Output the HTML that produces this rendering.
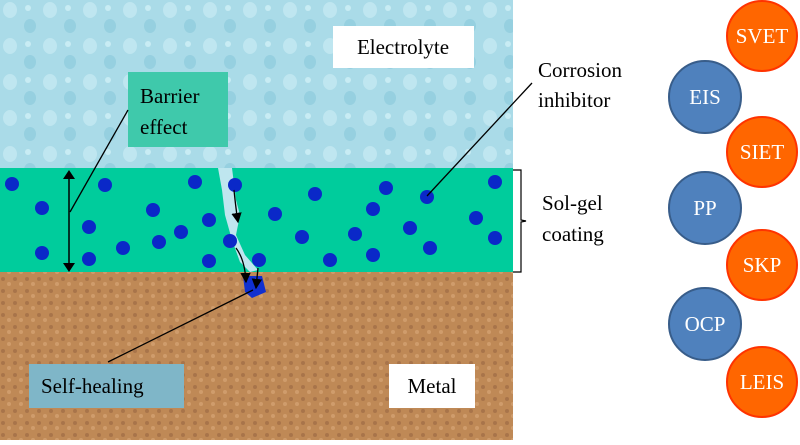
<!DOCTYPE html>
<html><head><meta charset="utf-8"><style>
body{margin:0;width:800px;height:440px;overflow:hidden;background:#fff;font-family:"Liberation Serif",serif}
</style></head><body>
<svg width="800" height="440" xmlns="http://www.w3.org/2000/svg" font-family="Liberation Serif, serif">
<defs>
<pattern id="drops" width="40" height="36" patternUnits="userSpaceOnUse">
<rect width="40" height="36" fill="#aadbe8"/>
<ellipse cx="10" cy="10" rx="7" ry="8" fill="#bfe6f0"/>
<ellipse cx="30" cy="26" rx="6" ry="7" fill="#96d0e0"/>
<ellipse cx="28" cy="8" rx="3" ry="3" fill="#c8ecf4"/>
</pattern>
<pattern id="sand" width="12" height="12" patternUnits="userSpaceOnUse">
<rect width="12" height="12" fill="#bf8956"/>
<circle cx="3" cy="3" r="2" fill="#a8744a"/>
<circle cx="9" cy="8" r="2" fill="#cf9c6c"/>
</pattern>
<marker id="ah" markerWidth="8" markerHeight="8" refX="7" refY="4" orient="auto"><path d="M0,0 L8,4 L0,8 Z" fill="#000"/></marker>
</defs>
<rect x="0" y="0" width="513" height="170" fill="url(#drops)"/>
<rect x="0" y="168" width="513" height="104" fill="#00cc9c"/>
<rect x="0" y="272" width="513" height="168" fill="url(#sand)"/>
<path d="M218,168 L232,168 L236,200 L240,215 L236,235 L245,255 L258,270 L250,272 L240,262 L232,240 L225,215 L222,190 Z" fill="#bfe6ef"/>
<path d="M243,276 L262,276 L266,292 L252,298 L245,292 Z" fill="#1030d0"/>
<g fill="#0a28c8">
<circle cx="12" cy="184" r="7"/><circle cx="105" cy="185" r="7"/><circle cx="195" cy="182" r="7"/><circle cx="235" cy="185" r="7"/>
<circle cx="42" cy="208" r="7"/><circle cx="153" cy="210" r="7"/><circle cx="209" cy="220" r="7"/><circle cx="89" cy="227" r="7"/>
<circle cx="181" cy="232" r="7"/><circle cx="159" cy="242" r="7"/><circle cx="123" cy="248" r="7"/><circle cx="42" cy="253" r="7"/>
<circle cx="89" cy="259" r="7"/><circle cx="209" cy="261" r="7"/><circle cx="230" cy="241" r="7"/>
<circle cx="259" cy="260" r="7"/><circle cx="275" cy="214" r="7"/><circle cx="315" cy="194" r="7"/><circle cx="302" cy="237" r="7"/>
<circle cx="330" cy="260" r="7"/><circle cx="355" cy="234" r="7"/><circle cx="373" cy="209" r="7"/><circle cx="373" cy="255" r="7"/>
<circle cx="386" cy="188" r="7"/><circle cx="410" cy="228" r="7"/><circle cx="427" cy="197" r="7"/><circle cx="430" cy="248" r="7"/>
<circle cx="476" cy="218" r="7"/><circle cx="495" cy="182" r="7"/><circle cx="495" cy="238" r="7"/>
</g>
<path d="M234,190 Q236,210 238,222" stroke="#000" stroke-width="1.3" fill="none" marker-end="url(#ah)"/>
<path d="M236,248 Q245,260 246,282" stroke="#000" stroke-width="1.3" fill="none" marker-end="url(#ah)"/>
<path d="M258,268 L256,288" stroke="#000" stroke-width="1.3" fill="none" marker-end="url(#ah)"/>
<line x1="69" y1="176" x2="69" y2="266" stroke="#000" stroke-width="1.5"/>
<path d="M63,179 L69,170 L75,179 Z M63,263 L69,272 L75,263 Z" fill="#000"/>
<rect x="333" y="26" width="141" height="42" fill="#fff"/>
<text x="403" y="54" font-size="21" text-anchor="middle">Electrolyte</text>
<rect x="128" y="72" width="100" height="75" fill="#3fc9ab"/>
<text x="140" y="103" font-size="21">Barrier</text>
<text x="140" y="134" font-size="21">effect</text>
<line x1="128" y1="110" x2="70" y2="212" stroke="#000" stroke-width="1.3"/>
<rect x="29" y="364" width="155" height="44" fill="#7fb6c8"/>
<text x="41" y="393" font-size="21">Self-healing</text>
<line x1="108" y1="362" x2="253" y2="290" stroke="#000" stroke-width="1.3"/>
<rect x="389" y="364" width="86" height="44" fill="#fff"/>
<text x="432" y="393" font-size="21" text-anchor="middle">Metal</text>
<text x="538" y="77" font-size="21">Corrosion</text>
<text x="538" y="107" font-size="21">inhibitor</text>
<line x1="532" y1="83" x2="427" y2="196" stroke="#000" stroke-width="1.3"/>
<path d="M513,170 L521,170 L521,220 L526,221 L521,222 L521,272 L513,272" stroke="#000" stroke-width="1.2" fill="none"/>
<text x="542" y="210" font-size="21">Sol-gel</text>
<text x="542" y="241" font-size="21">coating</text>
<g font-size="21" fill="#fff" text-anchor="middle" stroke-width="2">
<circle cx="762" cy="36" r="35" fill="#ff6600" stroke="#ff3300"/><text x="762" y="43">SVET</text>
<circle cx="705" cy="97" r="36" fill="#4f81bd" stroke="#385d8a"/><text x="705" y="104">EIS</text>
<circle cx="762" cy="152" r="35" fill="#ff6600" stroke="#ff3300"/><text x="762" y="159">SIET</text>
<circle cx="705" cy="208" r="36" fill="#4f81bd" stroke="#385d8a"/><text x="705" y="215">PP</text>
<circle cx="762" cy="265" r="35" fill="#ff6600" stroke="#ff3300"/><text x="762" y="272">SKP</text>
<circle cx="705" cy="324" r="36" fill="#4f81bd" stroke="#385d8a"/><text x="705" y="331">OCP</text>
<circle cx="762" cy="382" r="35" fill="#ff6600" stroke="#ff3300"/><text x="762" y="389">LEIS</text>
</g>
</svg>
</body></html>
